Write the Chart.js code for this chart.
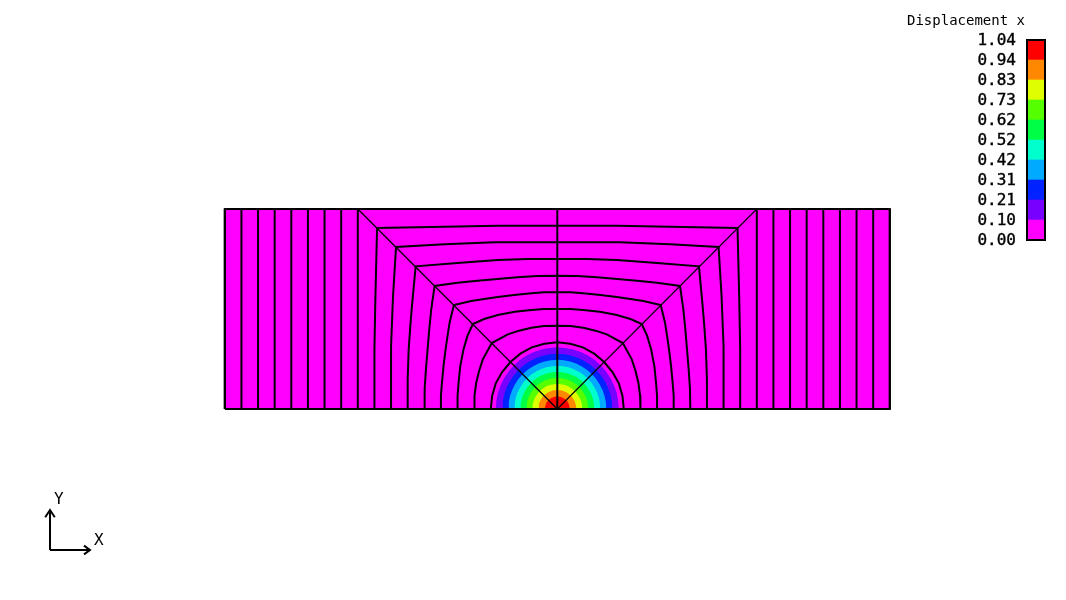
<!DOCTYPE html>
<html>
<head>
<meta charset="utf-8">
<title>Displacement x</title>
<script src="https://cdn.jsdelivr.net/npm/chart.js@4"></script>
<style>
  html, body { margin: 0; padding: 0; background: #fff; }
  #page { position: relative; width: 1066px; height: 600px; overflow: hidden; }
  canvas { position: absolute; }
</style>
</head>
<body>
<div id="page">
  <canvas id="mesh" width="1066" height="600" style="left:0;top:0"></canvas>
  <canvas id="bar" width="160" height="260" style="left:886px;top:0"></canvas>
  <canvas id="triad" width="90" height="85" style="left:30px;top:485px"></canvas>
</div>
<script>
// colour bar
var barTitle = 'Displacement x';
var levels = [0, 0.104, 0.208, 0.312, 0.416, 0.52, 0.624, 0.728, 0.832, 0.936, 1.04];
var bandColors = ['#ff00ff','#7700ff','#0022ff','#00aaff','#00ffcc','#00ff44','#55ff00','#ddff00','#ff8800','#ff0000'];

// mesh, in model units (half width 10, height 6, load point at 0,0)
var outline = [[-10,0],[-10,6],[10,6],[10,0],[-10,0]];
var columnX = [-10,-9.5,-9,-8.5,-8,-7.5,-7,-6.5,-6,6,6.5,7,7.5,8,8.5,9,9.5,10];
var centerLine = [[0,0],[0,6]];
var diagonalLeft = [[-6,6],[0,0]];
var diagonalRight = [[6,6],[0,0]];

// top left eighth of each arc, from the node on the diagonal to the centre line
var arcEighths = [
  [[-1.41,1.41],[-1.11,1.66],[-0.77,1.85],[-0.39,1.96],[0,2]],
  [[-1.97,1.98],[-1.49,2.24],[-1.15,2.35],[-0.78,2.44],[-0.4,2.49],[0,2.5]],
  [[-2.54,2.55],[-2.2,2.7],[-1.79,2.82],[-1.28,2.92],[-0.78,2.97],[-0.4,3],[0,3]],
  [[-3.11,3.12],[-2.59,3.24],[-2.2,3.3],[-1.79,3.36],[-1.3,3.42],[-0.78,3.47],[-0.4,3.5],[0,3.5]],
  [[-3.69,3.69],[-3,3.79],[-2.4,3.85],[-1.8,3.9],[-1.2,3.95],[-0.6,3.99],[0,4]],
  [[-4.26,4.28],[-3.1,4.37],[-2.5,4.42],[-1.79,4.47],[-0.9,4.5],[0,4.5]],
  [[-4.85,4.86],[-3.39,4.94],[-1.89,5],[0,5]],
  [[-5.42,5.43],[-3.39,5.47],[-1.8,5.5],[0,5.5]]
];

// contours round the load point: outer radius of each colour band from 0.10 up
var bandRadii = [1.85, 1.654, 1.474, 1.293, 1.113, 0.932, 0.752, 0.571, 0.376];
var unitHalfCircle = [[-1,0],[-0.991,0.131],[-0.966,0.259],[-0.924,0.383],[-0.866,0.5],[-0.793,0.609],[-0.707,0.707],
  [-0.609,0.793],[-0.5,0.866],[-0.383,0.924],[-0.259,0.966],[-0.131,0.991],[0,1],
  [0.131,0.991],[0.259,0.966],[0.383,0.924],[0.5,0.866],[0.609,0.793],[0.707,0.707],
  [0.793,0.609],[0.866,0.5],[0.924,0.383],[0.966,0.259],[0.991,0.131],[1,0]];

// triad
var triadX = [[0,0],[1,0]];
var triadY = [[0,0],[0,1]];
var triadXHead = [[0.85,0.11],[1,0],[0.85,-0.11]];
var triadYHead = [[-0.12,0.82],[0,1],[0.12,0.82]];
var triadLabels = [{text:'X', at:[1.22,0.22]}, {text:'Y', at:[0.22,1.25]}];

var font = '"DejaVu Sans Mono", monospace';
Chart.defaults.animation = false;
Chart.defaults.responsive = false;
Chart.defaults.plugins.legend.display = false;
Chart.defaults.plugins.tooltip.enabled = false;

function pts(list) {
  return list.map(function (p) { return {x: p[0], y: p[1]}; });
}

function lineSet(list, width) {
  return {data: pts(list), showLine: true, borderColor: '#000', borderWidth: width, pointRadius: 0, fill: false, tension: 0, order: 0};
}

function fillSet(list, color, order) {
  return {data: pts(list), showLine: true, borderWidth: 0, borderColor: color, backgroundColor: color, pointRadius: 0, fill: 'origin', tension: 0, order: order};
}

// whole arc from the four fold symmetry of the mesh
function fullArc(eighth) {
  var lower = eighth.slice(1).reverse().map(function (p) { return [-p[1], -p[0]]; });
  var left = lower.concat(eighth);
  var right = left.slice(0, -1).reverse().map(function (p) { return [-p[0], p[1]]; });
  return left.concat(right);
}

var meshSets = [];
meshSets.push(fillSet(outline.slice(0, 4), bandColors[0], 30));
bandRadii.forEach(function (r, i) {
  var half = unitHalfCircle.map(function (p) { return [p[0] * r, p[1] * r]; });
  meshSets.push(fillSet(half, bandColors[i + 1], 29 - i));
});
columnX.forEach(function (x) { meshSets.push(lineSet([[x,0],[x,6]], 2)); });
arcEighths.forEach(function (a) { meshSets.push(lineSet(fullArc(a), 2)); });
meshSets.push(lineSet(centerLine, 2));
meshSets.push(lineSet(diagonalLeft, 1.3));
meshSets.push(lineSet(diagonalRight, 1.1));
meshSets.push(lineSet(outline, 2));

new Chart(document.getElementById('mesh'), {
  type: 'scatter',
  data: {datasets: meshSets},
  options: {
    layout: {padding: 0},
    scales: {
      // 33.25 px per unit across, 33.33 px per unit up
      x: {type: 'linear', display: false, min: -16.761, max: 15.299},
      y: {type: 'linear', display: false, min: -5.73, max: 12.27}
    }
  }
});

// colour bar
var barSets = bandColors.map(function (c, i) {
  return {data: [[levels[i], levels[i + 1]]], backgroundColor: c, borderWidth: 0, barPercentage: 1, categoryPercentage: 1};
});

var barFrame = {
  id: 'barFrame',
  afterDatasetsDraw: function (chart) {
    var a = chart.chartArea, ctx = chart.ctx;
    ctx.save();
    ctx.strokeStyle = '#000';
    ctx.lineWidth = 2;
    ctx.strokeRect(a.left + 1, a.top, a.width - 2, a.height);
    ctx.restore();
  }
};

// DejaVu sits a pixel high on its middle baseline, so the labels go 1px down
var labelNudge = 0.0052;

new Chart(document.getElementById('bar'), {
  type: 'bar',
  data: {labels: [''], datasets: barSets},
  plugins: [barFrame],
  options: {
    layout: {padding: {bottom: 20}},
    plugins: {
      title: {display: true, text: barTitle, color: '#000', font: {family: font, size: 14, weight: 'normal', lineHeight: 1.2}, padding: {top: 13, bottom: 10.2}}
    },
    scales: {
      x: {stacked: true, display: false},
      y: {
        min: 0, max: 1.04,
        grid: {display: false, drawTicks: false},
        border: {display: false},
        afterBuildTicks: function (s) { s.ticks = levels.map(function (v) { return {value: v - labelNudge}; }); },
        afterFit: function (s) { s.width = 140; },
        ticks: {
          autoSkip: false, padding: 10, color: '#000',
          textStrokeColor: '#000', textStrokeWidth: 0.4,
          font: {family: font, size: 16},
          callback: function (v, i) { return levels[i].toFixed(2); }
        }
      }
    }
  }
});

// triad
var triadText = {
  id: 'triadText',
  afterDraw: function (chart) {
    var ctx = chart.ctx;
    ctx.save();
    ctx.fillStyle = '#000';
    ctx.font = '16px ' + font;
    ctx.textAlign = 'center';
    ctx.textBaseline = 'middle';
    triadLabels.forEach(function (l) {
      ctx.fillText(l.text, chart.scales.x.getPixelForValue(l.at[0]), chart.scales.y.getPixelForValue(l.at[1]));
    });
    ctx.restore();
  }
};

new Chart(document.getElementById('triad'), {
  type: 'scatter',
  data: {datasets: [lineSet(triadX, 2), lineSet(triadY, 2), lineSet(triadXHead, 2), lineSet(triadYHead, 2)]},
  plugins: [triadText],
  options: {
    layout: {padding: 0},
    scales: {
      x: {type: 'linear', display: false, min: -0.5, max: 1.75},
      y: {type: 'linear', display: false, min: -0.5, max: 1.625}
    }
  }
});
</script>
</body>
</html>
